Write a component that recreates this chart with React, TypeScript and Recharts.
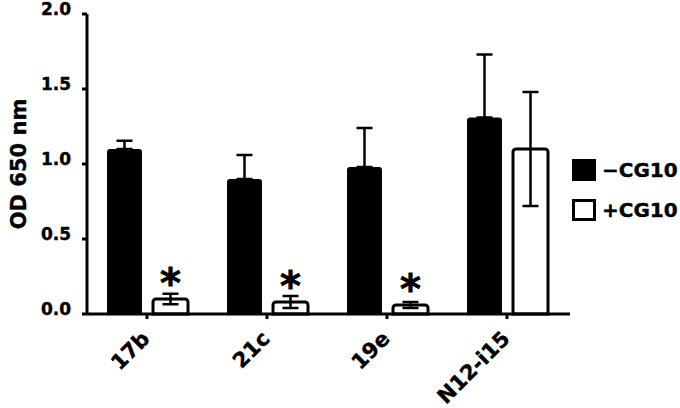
import React from 'react';
import { BarChart, Bar, XAxis, YAxis, ErrorBar, LabelList, Legend } from 'recharts';

const categories = ['17b', '21c', '19e', 'N12-i15'];
const minusCG10 = [1.1, 0.9, 0.98, 1.31];
const minusCG10Err = [0.055, 0.16, 0.26, 0.42];
const plusCG10 = [0.1, 0.08, 0.06, 1.1];
const plusCG10Err = [0.035, 0.04, 0.02, 0.38];
const significance = ['*', '*', '*', ''];
const yTicks = [0, 0.5, 1.0, 1.5, 2.0];
const seriesNames = ['\u2212CG10', '+CG10'];

const data = categories.map((c, i) => ({
  category: c,
  minus: minusCG10[i],
  minusErr: [0, minusCG10Err[i]],
  plus: plusCG10[i],
  plusErr: plusCG10Err[i],
  star: significance[i],
}));

const FONT = '"DejaVu Sans", "Liberation Sans", Arial, sans-serif';

const YTick = (props: any) => {
  const { x, y, payload } = props;
  return (
    <text x={x} y={y} dy={1} textAnchor="end" fontFamily={FONT} fontWeight="bold" fontSize={17} fill="#000" stroke="#000" strokeWidth={0.4}>
      {Number(payload.value).toFixed(1)}
    </text>
  );
};

const XTick = (props: any) => {
  const { x, y, payload } = props;
  return (
    <g transform={`translate(${x + 4},${y + 19})`}>
      <text x={0} y={0} textAnchor="end" transform="rotate(-45)" fontFamily={FONT} fontWeight="bold" fontSize={21} fill="#000" stroke="#000" strokeWidth={0.4}>
        {payload.value}
      </text>
    </g>
  );
};

const StarLabel = (props: any) => {
  const { x, y, width, value } = props;
  if (!value) return null;
  return (
    <text x={x + width / 2} y={y - 2} textAnchor="middle" fontFamily={FONT} fontWeight="bold" fontSize={40} fill="#000" stroke="#000" strokeWidth={0.8}>
      {value}
    </text>
  );
};

const LegendContent = () => (
  <div style={{ fontFamily: FONT, fontWeight: 'bold', fontSize: 20, color: '#000', whiteSpace: 'nowrap', WebkitTextStroke: '0.4px #000' }}>
    <div style={{ display: 'flex', alignItems: 'center', height: 22, marginBottom: 18 }}>
      <div style={{ width: 24, height: 22, background: '#000', boxSizing: 'border-box' }} />
      <span style={{ marginLeft: 6, lineHeight: '22px' }}>{seriesNames[0]}</span>
    </div>
    <div style={{ display: 'flex', alignItems: 'center', height: 22 }}>
      <div style={{ width: 24, height: 22, background: '#fff', border: '3px solid #000', boxSizing: 'border-box' }} />
      <span style={{ marginLeft: 6, lineHeight: '22px' }}>{seriesNames[1]}</span>
    </div>
  </div>
);

export default function App() {
  return (
    <div style={{ position: 'absolute', left: 0, top: 0, width: 680, height: 408, overflow: 'hidden', background: '#fff' }}>
      <BarChart
        width={680}
        height={408}
        data={data}
        margin={{ top: 14, right: 110, bottom: 0, left: 0 }}
        barCategoryGap={20}
        barGap={11}
      >
        <XAxis
          dataKey="category"
          height={94}
          padding={{ left: 0, right: 3 }}
          axisLine={{ stroke: '#000', strokeWidth: 3 }}
          tickLine={{ stroke: '#000', strokeWidth: 3 }}
          tickSize={5}
          tickMargin={2}
          tick={<XTick />}
          interval={0}
        />
        <YAxis
          width={87}
          domain={[0, 2]}
          ticks={yTicks}
          axisLine={{ stroke: '#000', strokeWidth: 3 }}
          tickLine={{ stroke: '#000', strokeWidth: 3 }}
          tickSize={5}
          tickMargin={11}
          tick={<YTick />}
          label={{
            value: 'OD 650 nm',
            angle: -90,
            position: 'center',
            dx: -25,
            style: { fontFamily: FONT, fontWeight: 'bold', fontSize: 21, fill: '#000', stroke: '#000', strokeWidth: 0.4 },
          }}
        />
        <Legend
          layout="horizontal"
          align="center"
          verticalAlign="middle"
          content={<LegendContent />}
          wrapperStyle={{ left: 572, top: 159, width: 120, height: 70 }}
        />
        <Bar dataKey="minus" name={seriesNames[0]} fill="#000" radius={[3, 3, 0, 0]} isAnimationActive={false}>
          <ErrorBar dataKey="minusErr" width={8} stroke="#000" strokeWidth={2.5} isAnimationActive={false} />
        </Bar>
        <Bar dataKey="plus" name={seriesNames[1]} fill="#fff" stroke="#000" strokeWidth={3} radius={[3, 3, 0, 0]} isAnimationActive={false}>
          <ErrorBar dataKey="plusErr" width={8} stroke="#000" strokeWidth={2.5} isAnimationActive={false} />
          <LabelList dataKey="star" content={<StarLabel />} />
        </Bar>
      </BarChart>
    </div>
  );
}
